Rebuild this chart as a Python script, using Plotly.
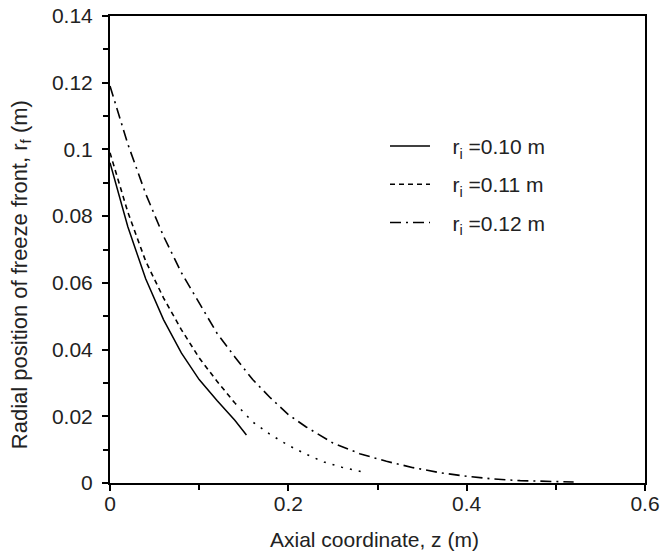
import plotly.graph_objects as go

# Data
z_010 = [0.0, 0.02, 0.04, 0.06, 0.08, 0.10, 0.12, 0.14, 0.153]
r_010 = [0.096, 0.0768, 0.0612, 0.0490, 0.0390, 0.0310, 0.0247, 0.0188, 0.0144]

z_011 = [0.0, 0.02, 0.04, 0.06, 0.08, 0.10, 0.12, 0.14, 0.16, 0.18, 0.20, 0.22, 0.24, 0.26, 0.284]
r_011 = [0.099, 0.0812, 0.0665, 0.0555, 0.0460, 0.0375, 0.0305, 0.0240, 0.0183, 0.0145, 0.0113, 0.0086, 0.0063, 0.0047, 0.0033]

z_012 = [0.0, 0.02, 0.04, 0.06, 0.08, 0.10, 0.12, 0.14, 0.16, 0.18, 0.20, 0.22, 0.25, 0.28,
         0.31, 0.34, 0.37, 0.40, 0.43, 0.46, 0.49, 0.52]
r_012 = [0.119, 0.1016, 0.0867, 0.0740, 0.0631, 0.0539, 0.0449, 0.0378, 0.0310, 0.0255, 0.0205,
         0.0168, 0.0120, 0.0088, 0.0065, 0.0046, 0.0031, 0.0020, 0.0012, 0.0007, 0.0004, 0.0003]

dash_split_z = 0.14  # dashed curve turns into dots beyond this point

x_ticks = [0, 0.2, 0.4, 0.6]
x_tick_labels = ["0", "0.2", "0.4", "0.6"]
y_ticks = [0, 0.02, 0.04, 0.06, 0.08, 0.1, 0.12, 0.14]
y_tick_labels = ["0", "0.02", "0.04", "0.06", "0.08", "0.1", "0.12", "0.14"]

PAD = "\u00a0\u00a0\u00a0"
names = [PAD + "r<sub>i</sub> =0.10 m", PAD + "r<sub>i</sub> =0.11 m", PAD + "r<sub>i</sub> =0.12 m"]
x_title = "Axial coordinate, z (m)"
y_title = "Radial position of freeze front, r<sub>f</sub> (m)"

FONT = "Liberation Sans, Arial, sans-serif"
TXT = "#222"
fig = go.Figure()

fig.add_trace(go.Scatter(x=z_010, y=r_010, mode="lines", name=names[0], legendgroup="a",
                         line=dict(color="black", width=1.5, dash="solid")))

idx = max(i for i, v in enumerate(z_011) if v <= dash_split_z)
fig.add_trace(go.Scatter(x=z_011[:idx + 1], y=r_011[:idx + 1], mode="lines", name=names[1], legendgroup="b",
                         line=dict(color="black", width=1.6, dash="5px,4px")))
fig.add_trace(go.Scatter(x=z_011[idx:], y=r_011[idx:], mode="lines", showlegend=False, legendgroup="b",
                         line=dict(color="black", width=1.6, dash="2px,7px")))

fig.add_trace(go.Scatter(x=z_012, y=r_012, mode="lines", name=names[2], legendgroup="c",
                         line=dict(color="black", width=1.6, dash="11px,5px,2px,5px")))

axis_common = dict(showline=True, linecolor="black", linewidth=2, mirror=True,
                   ticks="outside", tickcolor="black", tickwidth=2, ticklen=6,
                   showgrid=False, zeroline=False, automargin=False,
                   tickfont=dict(family=FONT, size=21, color=TXT))

fig.update_xaxes(range=[0, 0.6], tickvals=x_ticks, ticktext=x_tick_labels, ticklabelstandoff=-5,
                 minor=dict(dtick=0.1, ticks="outside", ticklen=5, tickcolor="black", tickwidth=2),
                 **axis_common)
fig.update_yaxes(range=[0, 0.14], tickvals=y_ticks, ticktext=y_tick_labels, ticklabelstandoff=5,
                 minor=dict(dtick=0.01, ticks="outside", ticklen=5, tickcolor="black", tickwidth=2),
                 **axis_common)

fig.add_annotation(text=x_title, xref="paper", yref="paper", x=0.495, y=0, yshift=-56,
                   xanchor="center", yanchor="middle", showarrow=False,
                   font=dict(family=FONT, size=21, color=TXT))
fig.add_annotation(text=y_title, xref="paper", yref="paper", x=0, y=0.445, xshift=-89,
                   xanchor="center", yanchor="middle", textangle=-90, showarrow=False,
                   font=dict(family=FONT, size=22, color=TXT))

fig.update_layout(
    width=663, height=555,
    margin=dict(l=110, r=18, t=16, b=72, autoexpand=False),
    plot_bgcolor="white", paper_bgcolor="white",
    showlegend=True,
    legend=dict(x=0.514, y=0.765, xanchor="left", yanchor="top",
                font=dict(family=FONT, size=21, color=TXT),
                bgcolor="rgba(0,0,0,0)", tracegroupgap=8, itemwidth=40),
)

fig.write_html("out.html", config={"displayModeBar": False},
               post_script="document.body.style.margin='0';document.body.style.overflow='hidden';")
